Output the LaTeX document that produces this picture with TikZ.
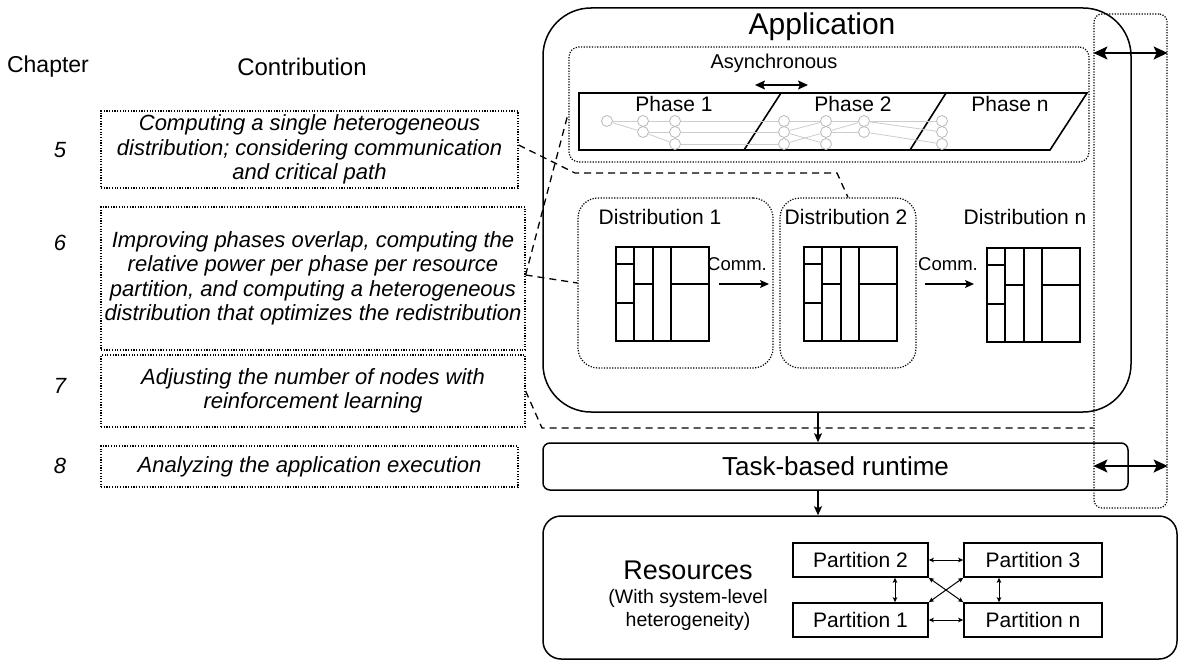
\documentclass[tikz,border=0pt]{standalone}
\usepackage{fontspec}
\setmainfont{Liberation Sans}
\usetikzlibrary{arrows.meta}

\begin{document}
\begin{tikzpicture}[x=1pt,y=-1pt,
  every node/.style={inner sep=0pt},
  dotbox/.style={draw,line width=1.2pt,dash pattern=on 1.2pt off 1.5pt},
  solidbox/.style={draw,line width=1.5pt},
  contrib/.style={dotbox,align=center,font=\fontsize{22}{24.5}\selectfont\itshape},
  chapnum/.style={font=\fontsize{22}{22}\selectfont\itshape},
  head/.style={font=\fontsize{24}{24}\selectfont},
  lbl/.style={font=\fontsize{21}{21}\selectfont},
  gnode/.style={circle,draw=black!28,fill=white,line width=0.8pt,minimum size=11pt},
  gedge/.style={draw=black!20,line width=0.8pt},
  gridline/.style={line width=1.8pt},
  link/.style={line width=1.3pt,dash pattern=on 7pt off 5pt},
  arr/.style={line width=1.3pt,-{Stealth[length=9pt,width=8pt,inset=2pt]}},
  biarr/.style={line width=1.5pt,{Stealth[length=10pt,width=9pt,inset=2pt]}-{Stealth[length=10pt,width=9pt,inset=2pt]}},
  bigarr/.style={line width=1.5pt,{Stealth[length=14pt,width=13pt,inset=3pt]}-{Stealth[length=14pt,width=13pt,inset=3pt]}},
  smallarr/.style={line width=1pt,{Stealth[length=5pt,width=4.5pt,inset=1pt]}-{Stealth[length=5pt,width=4.5pt,inset=1pt]}}]
\useasboundingbox (0,0) rectangle (1182,661);

% left column
\node[head,font=\fontsize{23}{23}\selectfont] (chap) at (48,67) {Chapter};
\node[head] (contribhead) at (302,67) {Contribution};

\node[chapnum] (n5) at (60,150) {5};
\node[chapnum] (n6) at (60,243) {6};
\node[chapnum] (n7) at (60,386) {7};
\node[chapnum] (n8) at (60,466) {8};

\node[contrib,minimum width=417pt,minimum height=77pt] (c5) at (309.5,149.5)
  {Computing a single heterogeneous\\distribution; considering communication\\and critical path};
\node[contrib,minimum width=424pt,minimum height=143pt] (c6) at (313,278.5)
  {Improving phases overlap, computing the\\relative power per phase per resource\\partition, and computing a heterogeneous\\distribution that optimizes the redistribution};
\node[contrib,minimum width=424pt,minimum height=72pt] (c7) at (313,391)
  {Adjusting the number of nodes with\\reinforcement learning};
\node[contrib,minimum width=417pt,minimum height=41pt] (c8) at (309.5,466.5)
  {Analyzing the application execution};

% application
\node[solidbox,rounded corners=48pt,minimum width=588pt,minimum height=404pt] (app) at (837,210) {};
\node[font=\fontsize{30}{30}\selectfont] (apptitle) at (822,27) {Application};

\node[dotbox,rounded corners=10pt,minimum width=520pt,minimum height=115pt] (phases) at (829,104.5) {};
\node[font=\fontsize{20}{20}\selectfont] (async) at (774,63) {Asynchronous};
\coordinate (as1) at (755,85);
\coordinate (as2) at (808,85);
\draw[biarr] (as1) -- (as2);

\draw[line width=1.6pt] (579,93) -- (1087,93) -- (1050,150) -- (579,150) -- cycle;
\draw[line width=1.6pt] (781,93) -- (744,150) (946,93) -- (910,150);
\node[lbl] (ph1) at (674,104) {Phase 1};
\node[lbl] (ph2) at (853,104) {Phase 2};
\node[lbl] (phn) at (1010,104) {Phase n};

\foreach \n/\x/\y in {a/607/121, b1/643/121, b2/643/132, c1/675/121, c2/675/132, c3/675/144,
  d1/784/121, d2/784/132, d3/784/144, e1/826/121, e2/826/132, e3/826/144, f1/864/121, f2/864/132,
  g1/942/121, g2/942/132, g3/942/144}
  \node[gnode] (\n) at (\x,\y) {};
\foreach \s/\t in {a/b1, a/b2, b1/c1, b2/c2, b2/c3, c1/d1, c2/d2, c3/d3, d1/e1, d2/e1, d2/e3,
  d3/e2, e1/f1, e2/f1, e2/f2, f1/g1, f1/g2, f2/g3}
  \draw[gedge] (\s) -- (\t);

\node[dotbox,rounded corners=20pt,minimum width=195pt,minimum height=170pt] (dist1) at (675.5,283) {};
\node[dotbox,rounded corners=20pt,minimum width=136pt,minimum height=170pt] (dist2) at (848,283) {};
\node[lbl] (dl1) at (660,217) {Distribution 1};
\node[lbl] (dl2) at (846,217) {Distribution 2};
\node[lbl] (dln) at (1025,217) {Distribution n};

\foreach \gx/\gy/\gn in {616/247/grid1, 804/247/grid2, 987/248/gridn}
{
  \begin{scope}[shift={(\gx,\gy)}]
    \node[minimum width=93pt,minimum height=94pt] (\gn) at (46.5,47) {};
    \draw[gridline] (0,0) rectangle (93,94);
    \draw[gridline] (18,0) -- (18,94) (37,0) -- (37,94) (55,0) -- (55,94);
    \draw[gridline] (0,17) -- (18,17) (0,56) -- (18,56) (18,37) -- (37,37) (55,37) -- (93,37);
  \end{scope}
}

\node[font=\fontsize{18.5}{18.5}\selectfont] (comm1) at (737,264) {Comm.};
\node[font=\fontsize{18.5}{18.5}\selectfont] (comm2) at (948,264) {Comm.};
\coordinate (k1a) at (719,284);
\coordinate (k1b) at (769,284);
\coordinate (k2a) at (925,284);
\coordinate (k2b) at (974,284);
\draw[arr] (k1a) -- (k1b);
\draw[arr] (k2a) -- (k2b);

% runtime and resources
\node[solidbox,rounded corners=7pt,minimum width=585pt,minimum height=47pt,
  font=\fontsize{26}{26}\selectfont] (task) at (835.5,466.5) {Task-based runtime};
\node[solidbox,rounded corners=18pt,minimum width=634pt,minimum height=143pt] (res) at (860,587.5) {};
\node[font=\fontsize{27}{27}\selectfont] (restitle) at (688,570) {Resources};
\node[align=center,font=\fontsize{19.5}{23}\selectfont] (ressub) at (688,610) {(With system-level\\heterogeneity)};

\coordinate (down) at (818,0);
\draw[arr] (app.south -| down) -- (task.north -| down);
\draw[arr] (task.south -| down) -- (res.north -| down);

\node[solidbox,lbl,minimum width=135pt,minimum height=34pt] (p2) at (860.5,560) {Partition 2};
\node[solidbox,lbl,minimum width=138pt,minimum height=34pt] (p3) at (1033,560) {Partition 3};
\node[solidbox,lbl,minimum width=135pt,minimum height=34pt] (p1) at (860.5,620) {Partition 1};
\node[solidbox,lbl,minimum width=138pt,minimum height=34pt] (pn) at (1033,620) {Partition n};
\draw[smallarr] (p2) -- (p3);
\draw[smallarr] (p1) -- (pn);
\draw[smallarr] ([xshift=34.5pt]p2.south) -- ([xshift=34.5pt]p1.north);
\draw[smallarr] ([xshift=-34pt]p3.south) -- ([xshift=-34pt]pn.north);
\draw[smallarr] (p2.south east) -- (pn.north west);
\draw[smallarr] (p1.north east) -- (p3.south west);

% synchronisation across layers
\node[dotbox,rounded corners=8pt,minimum width=73pt,minimum height=494pt] (sync) at (1130.5,261) {};
\coordinate (s1) at (0,53);
\coordinate (s2) at (0,466);
\draw[bigarr] (sync.west |- s1) -- (sync.east |- s1);
\draw[bigarr] (sync.west |- s2) -- (sync.east |- s2);

% links from the contributions
\draw[link] ([yshift=4.5pt]c5.east) -- (575,173) -- (837,173) -- (dist2.north);
\draw[link] ([yshift=3.5pt]c6.east) -- (dist1.west);
\draw[link] ([yshift=3.5pt]c6.east) -- ([yshift=-8pt]phases.west);
\draw[link] (c7.east) -- (542,428) -- (sync.west |- 0,428);
\end{tikzpicture}
\end{document}
